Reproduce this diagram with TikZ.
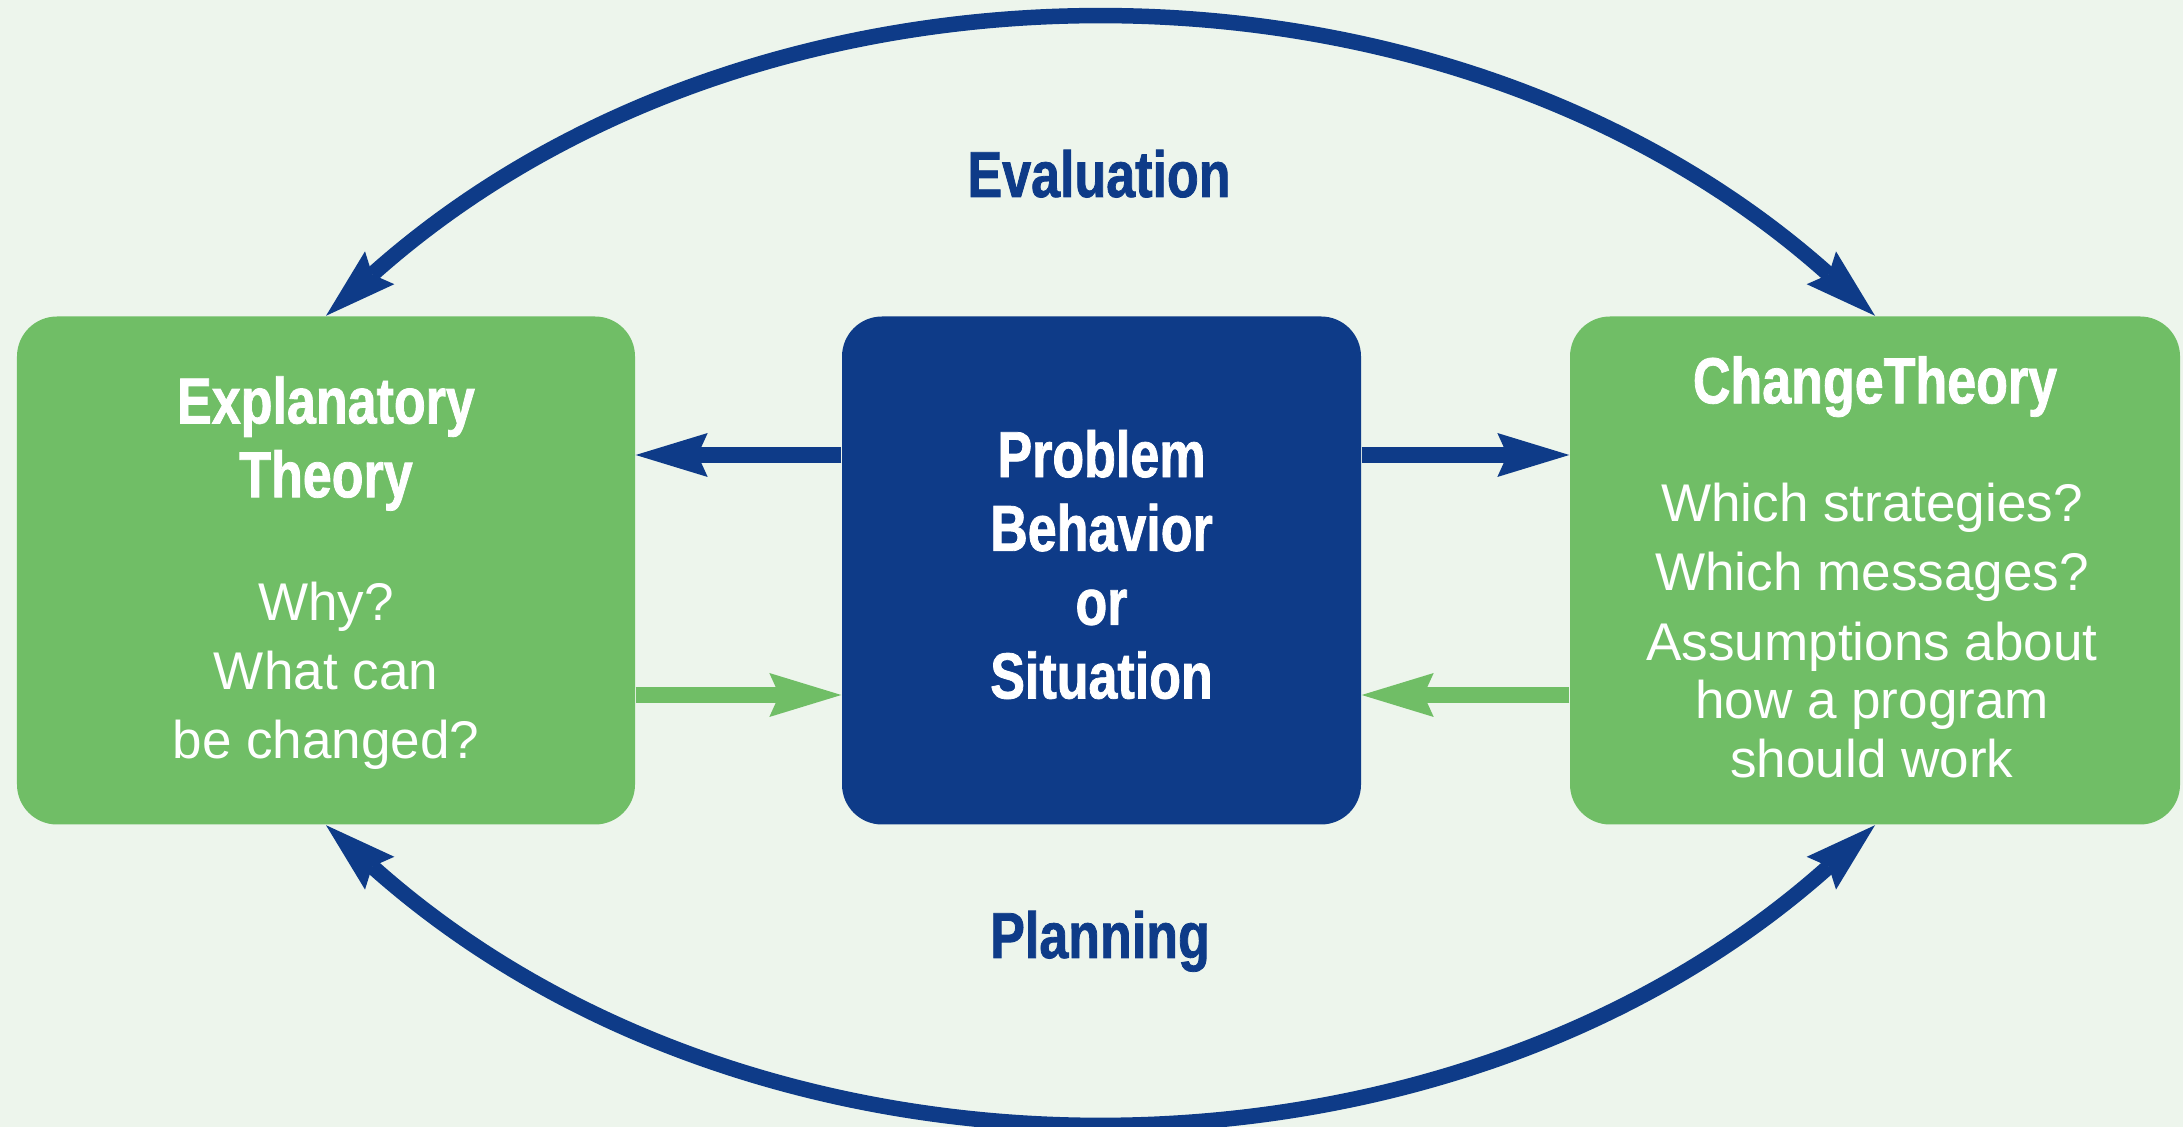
\documentclass[tikz,border=0pt]{standalone}
\usepackage{fontspec}
\setmainfont{Liberation Sans}
\newfontfamily\condfont[FakeStretch=0.80,FakeBold=1.2]{Liberation Sans Bold}
\usetikzlibrary{arrows.meta}
\definecolor{paleback}{HTML}{EDF5EC}
\definecolor{leafgreen}{HTML}{70BE66}
\definecolor{deepblue}{HTML}{0E3B88}
\tikzset{
  greenbox/.style={fill=leafgreen, rounded corners=0.4cm, minimum height=5.08cm, inner sep=0pt},
  bluebox/.style={fill=deepblue, rounded corners=0.4cm, minimum width=5.19cm, minimum height=5.08cm, inner sep=0pt},
  headtext/.style={font=\condfont\fontsize{18.5pt}{21pt}\selectfont, align=center, inner sep=0pt},
  plaintext/.style={font=\fontsize{15.1pt}{19.6pt}\selectfont, align=center, inner sep=0pt, text=white},
  bluearrow/.style={->, deepblue, line width=0.16cm},
  greenarrow/.style={->, leafgreen, line width=0.16cm},
  looparrow/.style={<->, deepblue, line width=0.155cm},
}
\begin{document}
\begin{tikzpicture}[>={Stealth[length=7.2mm,width=4.4mm,inset=1mm,line width=0pt]}]
		%%%%% START %%%%%
		\useasboundingbox (0,0) rectangle (21.83,-11.27);
		\fill[paleback] (0,0) rectangle (21.83,-11.27);
		
		\node[greenbox, minimum width=6.18cm] (explain) at (3.26,-5.705) {};
		\node[bluebox] (problem) at (11.015,-5.705) {};
		\node[greenbox, minimum width=6.10cm] (change) at (18.75,-5.705) {};
		
		\node[headtext, text=white] (explaintitle) at (3.26,-4.435) {Explanatory\\Theory};
		\node[plaintext] (explainbody) at (3.26,-6.755) {Why?\\What can\\be changed?};
		\node[headtext, text=white] (problemtitle) at (11.015,-5.645) {Problem\\Behavior\\or\\Situation};
		\node[headtext, text=white] (changetitle) at (18.75,-3.866) {ChangeTheory};
		\node[plaintext, font=\fontsize{15.1pt}{16.65pt}\selectfont] (changebody) at (18.72,-6.305) {Which strategies?\\[3pt]Which messages?\\[3pt]Assumptions about\\how a program\\should work};
		
		\node[headtext, text=deepblue, anchor=base] (evaluation) at (10.99,-1.97) {Evaluation};
		\node[headtext, text=deepblue, anchor=base] (planning) at (11.0,-9.58) {Planning};
		
		\draw[bluearrow] ([yshift=1.155cm]problem.west) -- ([yshift=1.155cm]explain.east);
		\draw[bluearrow] ([yshift=1.155cm]problem.east) -- ([yshift=1.155cm]change.west);
		\draw[greenarrow] ([yshift=-1.245cm]explain.east) -- ([yshift=-1.245cm]problem.west);
		\draw[greenarrow] ([yshift=-1.245cm]change.west) -- ([yshift=-1.245cm]problem.east);
		
		\draw[looparrow] (explain.north) to[bend left=41.8, looseness=0.96] (change.north);
		\draw[looparrow] (explain.south) to[bend right=41.8, looseness=0.96] (change.south);
		%%%%% END %%%%%
\end{tikzpicture}
\end{document}
